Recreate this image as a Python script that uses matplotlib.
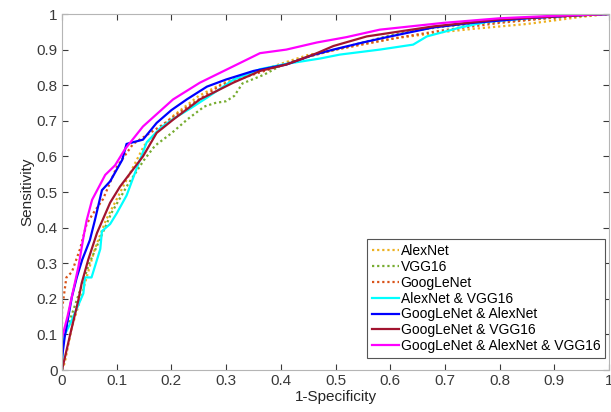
import matplotlib.pyplot as plt

plt.rcParams["font.family"] = ["Liberation Sans", "DejaVu Sans"]

# ROC points (1-specificity, sensitivity)
alexnet_fpr = [0, 0.005, 0.018, 0.03, 0.045, 0.06, 0.08, 0.1, 0.12, 0.15, 0.2, 0.25, 0.3,
               0.35, 0.4, 0.45, 0.5, 0.55, 0.6, 0.65, 0.7, 0.75, 0.8, 0.85, 0.9, 0.95, 1.0]
alexnet_tpr = [0, 0.02, 0.12, 0.18, 0.26, 0.34, 0.42, 0.48, 0.54, 0.63, 0.71, 0.77, 0.81,
               0.835, 0.86, 0.885, 0.9, 0.915, 0.93, 0.94, 0.95, 0.958, 0.965, 0.972, 0.982, 0.992, 1.0]

vgg_fpr = [0, 0.01, 0.03, 0.05, 0.07, 0.09, 0.12, 0.15, 0.17, 0.2, 0.23, 0.26, 0.28, 0.3,
           0.315, 0.33, 0.37, 0.4, 0.45, 0.5, 0.55, 0.6, 0.65, 0.7, 0.75, 0.8, 0.9, 1.0]
vgg_tpr = [0.08, 0.12, 0.21, 0.3, 0.37, 0.44, 0.52, 0.59, 0.63, 0.665, 0.705, 0.74, 0.75, 0.755,
           0.77, 0.805, 0.83, 0.855, 0.88, 0.9, 0.92, 0.94, 0.955, 0.965, 0.972, 0.978, 0.99, 1.0]

googlenet_fpr = [0, 0, 0.008, 0.018, 0.033, 0.045, 0.057, 0.075, 0.1, 0.13, 0.18, 0.23, 0.29,
                 0.35, 0.4, 0.45, 0.5, 0.55, 0.62, 0.7, 0.8, 0.9, 1.0]
googlenet_tpr = [0, 0.17, 0.26, 0.275, 0.34, 0.41, 0.44, 0.48, 0.57, 0.635, 0.685, 0.74, 0.80,
                 0.83, 0.855, 0.88, 0.9, 0.915, 0.935, 0.955, 0.975, 0.99, 1.0]

alex_vgg_fpr = [0, 0.002, 0.015, 0.039, 0.042, 0.054, 0.07, 0.073, 0.088, 0.1, 0.118, 0.135,
                0.155, 0.18, 0.203, 0.235, 0.265, 0.313, 0.362, 0.41, 0.472, 0.508, 0.581,
                0.642, 0.667, 0.728, 0.777, 0.85, 0.9, 0.95, 1.0]
alex_vgg_tpr = [0, 0.09, 0.13, 0.215, 0.26, 0.26, 0.34, 0.39, 0.41, 0.44, 0.49, 0.56,
                0.64, 0.68, 0.705, 0.735, 0.765, 0.815, 0.845, 0.86, 0.875, 0.886, 0.9,
                0.914, 0.937, 0.962, 0.978, 0.988, 0.993, 0.997, 1.0]

goog_alex_fpr = [0, 0, 0.005, 0.018, 0.027, 0.037, 0.051, 0.06, 0.073, 0.088, 0.11, 0.118,
                 0.148, 0.173, 0.2, 0.228, 0.265, 0.3, 0.35, 0.41, 0.459, 0.496, 0.55,
                 0.594, 0.678, 0.75, 0.85, 0.95, 1.0]
goog_alex_tpr = [0, 0.034, 0.093, 0.205, 0.26, 0.31, 0.365, 0.42, 0.505, 0.53, 0.59, 0.635,
                 0.647, 0.694, 0.73, 0.76, 0.796, 0.816, 0.84, 0.858, 0.885, 0.9, 0.92,
                 0.935, 0.962, 0.975, 0.988, 0.997, 1.0]

goog_vgg_fpr = [0, 0.015, 0.03, 0.036, 0.048, 0.064, 0.088, 0.106, 0.148, 0.173, 0.203, 0.252,
                0.313, 0.362, 0.41, 0.435, 0.466, 0.496, 0.557, 0.678, 0.8, 0.9, 1.0]
goog_vgg_tpr = [0, 0.10, 0.197, 0.244, 0.31, 0.385, 0.47, 0.515, 0.6, 0.666, 0.703, 0.76,
                0.807, 0.84, 0.858, 0.872, 0.89, 0.91, 0.937, 0.965, 0.985, 0.993, 1.0]

all_fpr = [0, 0.01, 0.02, 0.03, 0.04, 0.045, 0.055, 0.079, 0.097, 0.115, 0.148, 0.203, 0.252,
           0.313, 0.362, 0.41, 0.466, 0.52, 0.581, 0.697, 0.8, 0.9, 1.0]
all_tpr = [0.09, 0.15, 0.22, 0.29, 0.38, 0.42, 0.478, 0.548, 0.575, 0.62, 0.684, 0.76, 0.807,
           0.853, 0.89, 0.9, 0.92, 0.935, 0.956, 0.975, 0.988, 0.995, 1.0]

dot = (0, (1, 1.3))
curves = [
    (alexnet_fpr, alexnet_tpr, "#EDB120", dot, "AlexNet"),
    (vgg_fpr, vgg_tpr, "#77AC30", dot, "VGG16"),
    (googlenet_fpr, googlenet_tpr, "#D95319", dot, "GoogLeNet"),
    (alex_vgg_fpr, alex_vgg_tpr, "#00FFFF", "-", "AlexNet & VGG16"),
    (goog_alex_fpr, goog_alex_tpr, "#0000FF", "-", "GoogLeNet & AlexNet"),
    (goog_vgg_fpr, goog_vgg_tpr, "#A2142F", "-", "GoogLeNet & VGG16"),
    (all_fpr, all_tpr, "#FF00FF", "-", "GoogLeNet & AlexNet & VGG16"),
]

fig = plt.figure(figsize=(6.11, 4.12), dpi=100)
ax = fig.add_axes([62 / 611, 1 - 370 / 412, 547 / 611, 356 / 412])

for fpr, tpr, color, style, label in curves:
    ax.plot(fpr, tpr, color=color, linestyle=style, linewidth=1.6, label=label)

ax.set_xlim(0, 1)
ax.set_ylim(0, 1)
ax.set_xticks([i / 10 for i in range(11)])
ax.set_yticks([i / 10 for i in range(11)])
ax.set_xticklabels(["0", "0.1", "0.2", "0.3", "0.4", "0.5", "0.6", "0.7", "0.8", "0.9", "1"])
ax.set_yticklabels(["0", "0.1", "0.2", "0.3", "0.4", "0.5", "0.6", "0.7", "0.8", "0.9", "1"])
ax.tick_params(direction="in", top=True, right=True, length=4, width=0.8,
               labelsize=11, colors="#3a3a3a", pad=3)
for spine in ax.spines.values():
    spine.set_color("#b5b5b5")
    spine.set_linewidth(0.8)

ax.set_xlabel("1-Specificity", fontsize=11, color="#262626", labelpad=1)
ax.set_ylabel("Sensitivity", fontsize=11, color="#262626", labelpad=2)

leg = ax.legend(loc="lower right", bbox_to_anchor=(0.993, 0.034), fontsize=10,
                handlelength=2.0, handletextpad=0.1, labelspacing=0.13,
                borderpad=0.35, fancybox=False, framealpha=1, borderaxespad=0)
leg.get_frame().set_edgecolor("#555555")
leg.get_frame().set_linewidth(0.8)

fig.savefig("out.png", dpi=100)
